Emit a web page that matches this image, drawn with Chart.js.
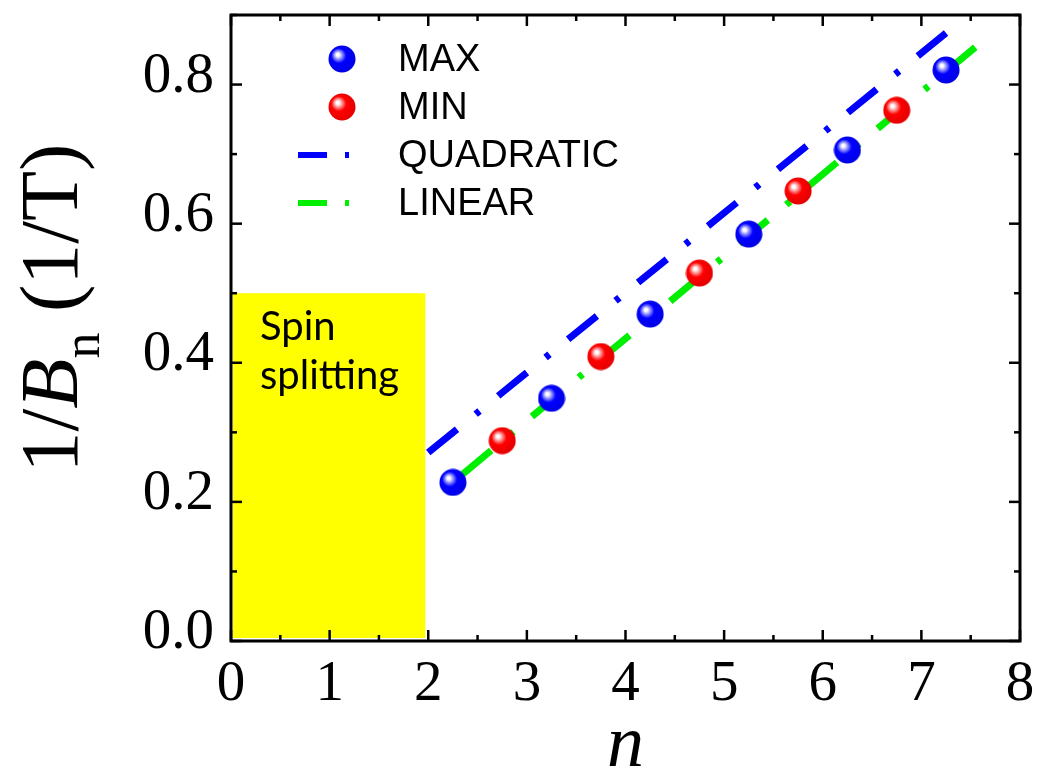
<!DOCTYPE html>
<html>
<head>
<meta charset="utf-8">
<script src="https://cdn.jsdelivr.net/npm/chart.js@4.4.1/dist/chart.umd.min.js"></script>
<style>
html, body { margin: 0; padding: 0; background: #fff; }
#wrap { width: 1038px; height: 771px; position: relative; }
</style>
</head>
<body>
<div id="wrap"><canvas id="chart"></canvas></div>
<script>
// data
const maxN = [2.25, 3.25, 4.25, 5.25, 6.25, 7.25];
const maxB = [0.228, 0.349, 0.470, 0.585, 0.706, 0.821];
const minN = [2.75, 3.75, 4.75, 5.75, 6.75];
const minB = [0.288, 0.409, 0.529, 0.647, 0.763];
const quadN = [2.0, 7.25];
const quadB = [0.271, 0.874];
const linN = [2.35, 7.6];
const linB = [0.240, 0.860];
const spinN = [0, 1.97];
const spinB = [0, 0.5];
const xTicks = [0, 1, 2, 3, 4, 5, 6, 7, 8];
const xTickLabels = ['0', '1', '2', '3', '4', '5', '6', '7', '8'];
const yTicks = [0.0, 0.2, 0.4, 0.6, 0.8];
const yTickLabels = ['0.0', '0.2', '0.4', '0.6', '0.8'];

const serif = '"Liberation Serif", "Times New Roman", serif';
const sans = '"Liberation Sans", Arial, sans-serif';

function sphere(light, base, dark) {
    const c = document.createElement('canvas');
    const s = 28;
    c.width = s; c.height = s;
    const g = c.getContext('2d');
    const grad = g.createRadialGradient(s / 2 - 4.5, s / 2 - 4.5, 0, s / 2 - 2, s / 2 - 2, 15);
    grad.addColorStop(0, '#ffffff');
    grad.addColorStop(0.1, '#ffffff');
    grad.addColorStop(0.28, light);
    grad.addColorStop(0.5, base);
    grad.addColorStop(1, dark);
    g.fillStyle = grad;
    g.beginPath();
    g.arc(s / 2, s / 2, 13.5, 0, Math.PI * 2);
    g.fill();
    return c;
}
const blueBall = sphere('#8c8cff', '#0000ff', '#0000e6');
const redBall = sphere('#ff8c8c', '#ff0000', '#e60000');

const pts = (xs, ys) => xs.map((x, i) => ({ x: x, y: ys[i] }));

// yellow "spin splitting" region, drawn behind the data
const spinBox = {
    id: 'spinBox',
    beforeDatasetsDraw(chart) {
        const { ctx, scales: { x, y } } = chart;
        const x0 = x.getPixelForValue(spinN[0]), x1 = x.getPixelForValue(spinN[1]);
        const y0 = y.getPixelForValue(spinB[0]), y1 = y.getPixelForValue(spinB[1]);
        ctx.save();
        ctx.fillStyle = '#ffff00';
        // small white gap next to the frame, like the original
        ctx.fillRect(x0 + 2, y1, x1 - x0 - 2, y0 - y1 - 3);
        ctx.fillStyle = '#000';
        ctx.font = '40px Lato, "Open Sans", sans-serif';
        ctx.textBaseline = 'alphabetic';
        ctx.fillText('Spin', x0 + 29, y1 + 47);
        ctx.fillText('splitting', x0 + 29, y1 + 96);
        ctx.restore();
    }
};

// closed frame with inward major and minor ticks on all sides
const frame = {
    id: 'frame',
    afterDatasetsDraw(chart) {
        const { ctx, chartArea: a, scales: { x, y } } = chart;
        ctx.save();
        ctx.strokeStyle = '#000';
        ctx.lineWidth = 2.5;
        const tick = (px, py, dx, dy) => {
            ctx.beginPath();
            ctx.moveTo(px, py);
            ctx.lineTo(px + dx, py + dy);
            ctx.stroke();
        };
        xTicks.forEach((v, i) => {
            const p = x.getPixelForValue(v);
            tick(p, a.bottom, 0, -11);
            tick(p, a.top, 0, 11);
            if (i < xTicks.length - 1) {
                const m = x.getPixelForValue((v + xTicks[i + 1]) / 2);
                tick(m, a.bottom, 0, -6);
                tick(m, a.top, 0, 6);
            }
        });
        yTicks.forEach((v, i) => {
            const p = y.getPixelForValue(v);
            tick(a.left, p, 11, 0);
            tick(a.right, p, -11, 0);
            const m = y.getPixelForValue(v + 0.1);
            tick(a.left, m, 6, 0);
            tick(a.right, m, -6, 0);
        });
        ctx.lineWidth = 3;
        ctx.strokeRect(a.left, a.top, a.right - a.left, a.bottom - a.top);
        ctx.restore();
    }
};

// legend inside the plot, taken from the datasets
const insideLegend = {
    id: 'insideLegend',
    afterDraw(chart) {
        const ctx = chart.ctx;
        const rows = [59, 107, 155, 203];
        ctx.save();
        ctx.font = '38px ' + sans;
        ctx.textBaseline = 'middle';
        ctx.fillStyle = '#000';
        chart.data.datasets.forEach((ds, i) => {
            const yy = rows[i];
            if (ds.showLine) {
                ctx.strokeStyle = ds.borderColor;
                ctx.lineWidth = 6;
                ctx.setLineDash([29, 18, 4, 100]);
                ctx.beginPath();
                ctx.moveTo(298, yy);
                ctx.lineTo(349, yy);
                ctx.stroke();
                ctx.setLineDash([]);
            } else {
                ctx.drawImage(ds.pointStyle, 342 - 14, yy - 14);
            }
            ctx.fillText(ds.label, 398, yy + 2);
        });
        ctx.restore();
    }
};

// axis titles with italic B, subscript n and italic n
const titles = {
    id: 'titles',
    afterDraw(chart) {
        const { ctx, chartArea: a } = chart;
        ctx.save();
        ctx.fillStyle = '#000';
        ctx.textBaseline = 'alphabetic';
        ctx.font = 'italic 74px ' + serif;
        ctx.textAlign = 'center';
        ctx.fillText('n', (a.left + a.right) / 2, 766);

        const parts = [
            { t: '1/', f: '82px ' + serif, dy: 0 },
            { t: 'B', f: 'italic 82px ' + serif, dy: 0 },
            { t: 'n', f: '52px ' + serif, dy: 22 },
            { t: ' (1/T)', f: '82px ' + serif, dy: 0 }
        ];
        ctx.textAlign = 'left';
        let total = 0;
        parts.forEach(p => { ctx.font = p.f; p.w = ctx.measureText(p.t).width; total += p.w; });
        ctx.translate(77, 308);
        ctx.rotate(-Math.PI / 2);
        let cx = -total / 2;
        parts.forEach(p => {
            ctx.font = p.f;
            ctx.fillText(p.t, cx, p.dy);
            cx += p.w;
        });
        ctx.restore();
    }
};

new Chart(document.getElementById('chart'), {
    type: 'scatter',
    data: {
        datasets: [
            { label: 'MAX', data: pts(maxN, maxB), pointStyle: blueBall, pointRadius: 14, showLine: false },
            { label: 'MIN', data: pts(minN, minB), pointStyle: redBall, pointRadius: 14, showLine: false },
            {
                label: 'QUADRATIC', data: pts(quadN, quadB), showLine: true, pointRadius: 0,
                borderColor: '#0000ff', borderWidth: 7, borderDash: [37, 24, 5, 24], borderCapStyle: 'butt'
            },
            {
                label: 'LINEAR', data: pts(linN, linB), showLine: true, pointRadius: 0,
                borderColor: '#00ee00', borderWidth: 7, borderDash: [37, 24, 5, 24], borderCapStyle: 'butt'
            }
        ]
    },
    options: {
        responsive: true,
        maintainAspectRatio: false,
        animation: false,
        layout: { padding: { top: 5, right: 18, left: 0, bottom: 0 } },
        plugins: { legend: { display: false }, tooltip: { enabled: false } },
        scales: {
            x: {
                type: 'linear', min: 0, max: 8,
                afterBuildTicks: s => { s.ticks = xTicks.map(v => ({ value: v })); },
                afterFit: s => { s.height = 130; s.paddingLeft = 0; s.paddingRight = 0; },
                grid: { display: false, drawTicks: false },
                border: { display: false },
                ticks: {
                    padding: 10, color: '#000', maxRotation: 0,
                    font: { family: serif, size: 57 },
                    callback: (v, i) => xTickLabels[i]
                }
            },
            y: {
                type: 'linear', min: 0, max: 0.9,
                afterBuildTicks: s => { s.ticks = yTicks.map(v => ({ value: v })); },
                afterFit: s => { s.width = 231; s.paddingTop = 0; s.paddingBottom = 0; },
                grid: { display: false, drawTicks: false },
                border: { display: false },
                ticks: {
                    padding: 17, color: '#000', labelOffset: -8,
                    font: { family: serif, size: 57 },
                    callback: (v, i) => yTickLabels[i]
                }
            }
        }
    },
    plugins: [spinBox, frame, insideLegend, titles]
});
</script>
</body>
</html>
